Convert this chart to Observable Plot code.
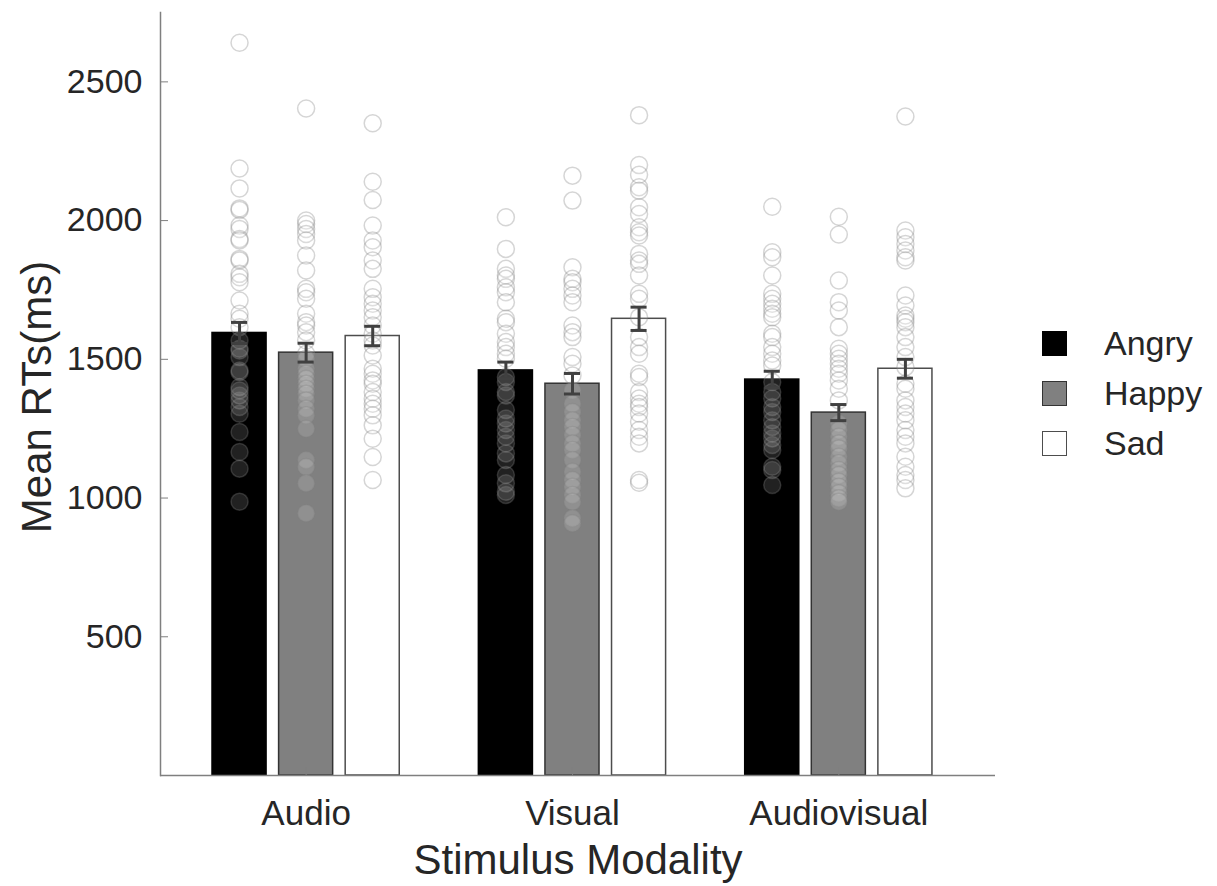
<!DOCTYPE html>
<html><head><meta charset="utf-8">
<script src="https://cdn.jsdelivr.net/npm/d3@7"></script>
<script src="https://cdn.jsdelivr.net/npm/@observablehq/plot@0.6"></script>
<style>
html,body{margin:0;padding:0;background:#fff;}
#wrap{position:relative;width:1217px;height:886px;font-family:"Liberation Sans",Arial,Helvetica,sans-serif;}
#legend{position:absolute;left:1042px;top:318px;}
.row{display:flex;align-items:center;height:50px;}
.sw{width:25px;height:25px;box-sizing:border-box;border:1.5px solid;}
.lab{margin-left:37px;font-size:34px;color:#262626;line-height:50px;}
</style></head>
<body><div id="wrap"><div id="legend"></div></div>
<script>
const modalities = ["Audio", "Visual", "Audiovisual"];
const emotions = ["Angry", "Happy", "Sad"];
const meanAngry = [1595, 1460, 1427];
const meanHappy = [1524, 1412, 1308];
const meanSad   = [1584, 1646, 1466];
const seAngry = [38, 30, 30];
const seHappy = [34, 37, 29];
const seSad   = [35, 42, 34];
const yTicks = [500, 1000, 1500, 2000, 2500];

const audioAngry = [2641,2188,2116,2044,2038,1982,1970,1934,1928,1862,1856,1808,1796,1778,1712,1664,1646,1616,1568,1538,1532,1508,1460,1454,1400,1388,1370,1352,1328,1304,1238,1166,1106,987];
const audioHappy = [2404,2000,1988,1970,1952,1928,1874,1820,1754,1742,1718,1664,1634,1622,1598,1568,1520,1502,1466,1448,1430,1412,1394,1376,1352,1322,1298,1250,1137,1112,1053,945];
const audioSad = [2351,2140,2074,1982,1928,1904,1856,1826,1754,1724,1700,1676,1652,1622,1592,1568,1550,1514,1466,1448,1424,1412,1382,1358,1340,1322,1298,1262,1214,1148,1065];
const visualAngry = [2012,1898,1826,1802,1790,1760,1742,1706,1646,1634,1592,1562,1544,1520,1502,1436,1418,1382,1370,1317,1287,1269,1245,1221,1197,1161,1137,1083,1053,1023,1011];
const visualHappy = [2162,2072,1832,1790,1778,1754,1730,1706,1622,1598,1580,1508,1484,1442,1388,1340,1310,1280,1256,1227,1197,1173,1137,1095,1065,1041,1011,987,927,909];
const visualSad = [2380,2200,2165,2120,2108,2048,2024,1976,1958,1946,1880,1856,1844,1802,1736,1718,1652,1580,1544,1520,1448,1436,1382,1359,1340,1328,1305,1275,1245,1221,1197,1065,1055];
const avAngry = [2050,1886,1868,1802,1736,1718,1700,1682,1664,1652,1592,1580,1544,1520,1496,1478,1418,1382,1359,1328,1310,1280,1256,1233,1215,1191,1173,1113,1101,1047];
const avHappy = [2014,1950,1784,1706,1676,1616,1538,1520,1502,1484,1466,1448,1424,1394,1352,1269,1245,1221,1197,1179,1149,1125,1101,1083,1059,1041,1017,999,987];
const avSad = [2375,1964,1940,1916,1892,1868,1856,1730,1694,1658,1646,1634,1616,1580,1544,1508,1472,1412,1394,1352,1328,1305,1280,1245,1221,1197,1149,1113,1083,1065,1035];

const means = [meanAngry, meanHappy, meanSad];
const ses = [seAngry, seHappy, seSad];
const cells = [[audioAngry, audioHappy, audioSad], [visualAngry, visualHappy, visualSad], [avAngry, avHappy, avSad]];
const barFill = ["#000000", "#808080", "#ffffff"];
const barStroke = ["#000000", "#333333", "#4d4d4d"];

const key = (m, e) => m + "|" + e;
const xDomain = [];
modalities.forEach((m, i) => { if (i > 0) xDomain.push("gap" + i); emotions.forEach(e => xDomain.push(key(m, e))); });

const bars = [];
const points = [];
modalities.forEach((m, i) => emotions.forEach((e, j) => {
  bars.push({key: key(m, e), emotion: e, mean: means[j][i], se: ses[j][i]});
  cells[i][j].forEach(v => points.push({key: key(m, e), value: v}));
}));

const axisColor = "#7f7f7f";
const font = '"Liberation Sans", Arial, Helvetica, sans-serif';

const chart = Plot.plot({
  width: 1217, height: 886,
  marginLeft: 160, marginRight: 222, marginTop: 12, marginBottom: 111,
  style: {fontFamily: font, color: "#262626", background: "#fff", overflow: "visible"},
  x: {type: "band", domain: xDomain, paddingInner: 0.188, paddingOuter: 0.864, align: 0.452, round: false},
  y: {domain: [0, 2750]},
  marks: [
    ...emotions.map((e, j) => Plot.barY(bars.filter(d => d.emotion === e), {
      x: "key", y: "mean", fill: barFill[j], stroke: barStroke[j], strokeWidth: 1.5
    })),
    Plot.dot(points, {x: "key", y: "value", r: 8.5, fill: "#ffffff", fillOpacity: 0.13,
      stroke: "#808080", strokeOpacity: 0.33, strokeWidth: 1.5}),
    Plot.ruleX(bars, {x: "key", y1: d => d.mean - d.se, y2: d => d.mean + d.se, stroke: "#404040", strokeWidth: 3}),
    Plot.tickY(bars, {x: "key", y: d => d.mean + d.se, stroke: "#404040", strokeWidth: 3, inset: 19}),
    Plot.tickY(bars, {x: "key", y: d => d.mean - d.se, stroke: "#404040", strokeWidth: 3, inset: 19}),
    Plot.ruleY([0], {stroke: axisColor, strokeWidth: 1.5}),
    Plot.frame({anchor: "left", stroke: axisColor, strokeWidth: 1.5}),
    Plot.axisY(yTicks, {tickSize: -8, tickPadding: 26, fontSize: 34, stroke: axisColor, tickFormat: d => String(d), label: null}),
    Plot.axisX(modalities.map(m => key(m, "Happy")), {tickSize: -8, tickPadding: 33, fontSize: 35, stroke: axisColor,
      tickFormat: d => d.split("|")[0], label: null}),
    Plot.text(["Stimulus Modality"], {frameAnchor: "bottom", dy: 98, lineAnchor: "bottom", fontSize: 42, text: d => d}),
    Plot.text(["Mean RTs(ms)"], {frameAnchor: "left", textAnchor: "middle", dx: -110, dy: 3, rotate: -90, lineAnchor: "bottom", fontSize: 42, text: d => d})
  ]
});
document.getElementById("wrap").prepend(chart);

const legend = document.getElementById("legend");
emotions.forEach((e, j) => {
  const row = document.createElement("div"); row.className = "row";
  const sw = document.createElement("div"); sw.className = "sw";
  sw.style.background = barFill[j]; sw.style.borderColor = barStroke[j];
  const lab = document.createElement("div"); lab.className = "lab"; lab.textContent = e;
  row.appendChild(sw); row.appendChild(lab); legend.appendChild(row);
});
</script>
</body></html>
